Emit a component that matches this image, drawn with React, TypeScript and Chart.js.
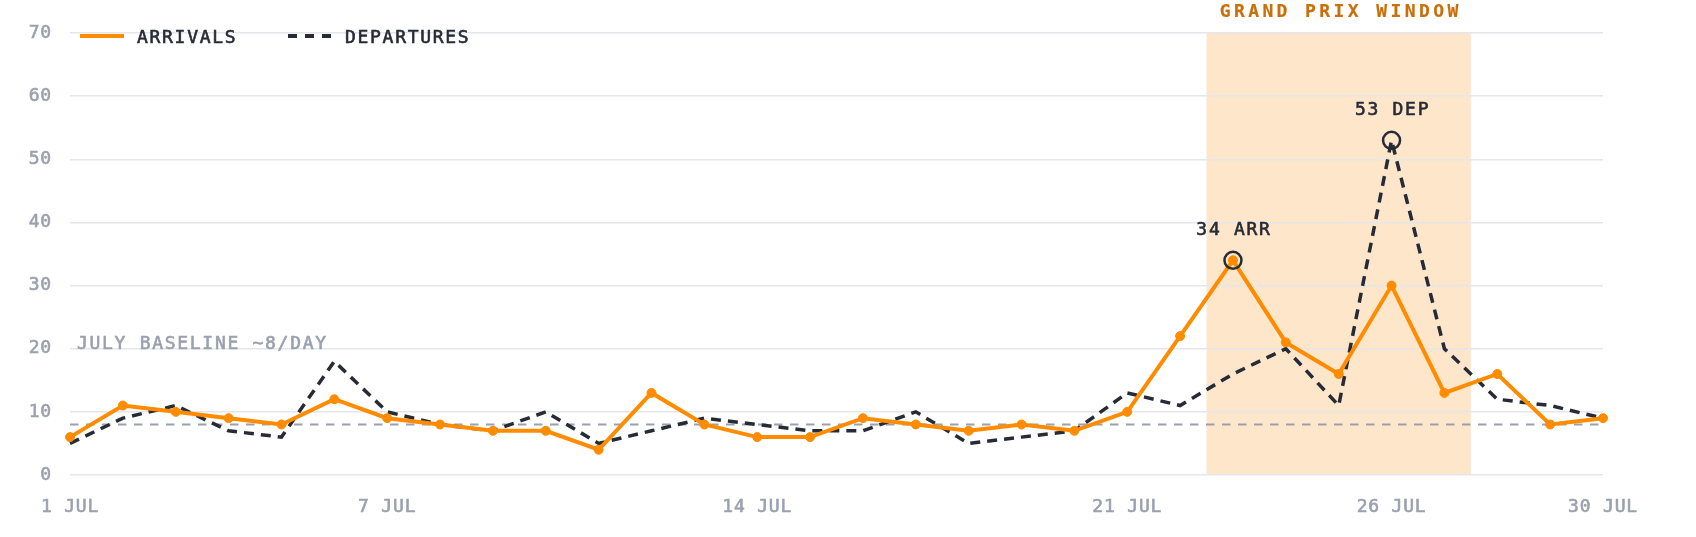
import React, { useEffect, useRef } from 'react';
import { Chart, registerables } from 'chart.js';

Chart.register(...registerables);

// July days (category axis)
const days = [1, 2, 3, 4, 5, 6, 7, 8, 9, 10, 11, 12, 13, 14, 15, 16, 17, 18, 19, 20, 21, 22, 23, 24, 25, 26, 27, 28, 29, 30];
const dayLabels = days.map((d) => `${d} JUL`);
const tickDays = [1, 7, 14, 21, 26, 30];

const arrivals = [6, 11, 10, 9, 8, 12, 9, 8, 7, 7, 4, 13, 8, 6, 6, 9, 8, 7, 8, 7, 10, 22, 34, 21, 16, 30, 13, 16, 8, 9];
const departures = [5, 9, 11, 7, 6, 18, 10, 8, 7, 10, 5, 7, 9, 8, 7, 7, 10, 5, 6, 7, 13, 11, 16, 20, 11, 53, 20, 12, 11, 9];

const yMin = 0;
const yMax = 70;
const yStep = 10;

const baselineValue = 8;
const baselineLabel = 'JULY BASELINE ~8/DAY';
const windowDays = [23, 27];
const windowLabel = 'GRAND PRIX WINDOW';
const peaks = [
  { day: 23, series: 0, suffix: 'ARR' },
  { day: 26, series: 1, suffix: 'DEP' },
];

const MONO = '"DejaVu Sans Mono", monospace';
const ORANGE = '#ff8c00';
const INK = '#272b36';
const MUTED = '#9aa0ad';
const GRID = '#e5e6eb';

// fill + thin stroke to get a medium weight look
function heavyText(ctx: CanvasRenderingContext2D, text: string, x: number, y: number, color: string, w = 0.6) {
  ctx.fillStyle = color;
  ctx.strokeStyle = color;
  ctx.lineWidth = w;
  ctx.setLineDash([]);
  ctx.fillText(text, x, y);
  ctx.strokeText(text, x, y);
}

const overlay = {
  id: 'overlay',
  beforeLayout(chart: any) {
    chart.ctx.letterSpacing = '0.8px';
  },
  beforeDraw(chart: any) {
    const { ctx, chartArea: a, scales } = chart;
    ctx.letterSpacing = '0.8px';
    const x = scales.x;
    const x0 = x.getPixelForValue(days.indexOf(windowDays[0]) - 0.5);
    const x1 = x.getPixelForValue(days.indexOf(windowDays[1]) + 0.5);
    ctx.save();
    ctx.fillStyle = '#fee6cb';
    ctx.fillRect(x0, a.top, x1 - x0, a.bottom - a.top);
    ctx.restore();
  },
  beforeDatasetsDraw(chart: any) {
    const { ctx, chartArea: a, scales } = chart;
    const yb = scales.y.getPixelForValue(baselineValue);
    ctx.save();
    ctx.strokeStyle = MUTED;
    ctx.lineWidth = 2;
    ctx.setLineDash([8.5, 7.5]);
    ctx.beginPath();
    ctx.moveTo(a.left, yb);
    ctx.lineTo(a.right, yb);
    ctx.stroke();
    ctx.font = `18px ${MONO}`;
    ctx.letterSpacing = '1.7px';
    ctx.textAlign = 'left';
    ctx.textBaseline = 'alphabetic';
    heavyText(ctx, baselineLabel, a.left + 7, scales.y.getPixelForValue(20), MUTED);
    ctx.restore();
  },
  afterDatasetsDraw(chart: any) {
    const { ctx, scales } = chart;
    const x = scales.x;
    const y = scales.y;
    ctx.save();

    // peak markers
    peaks.forEach((p) => {
      const i = days.indexOf(p.day);
      const v = chart.data.datasets[p.series].data[i];
      const px = x.getPixelForValue(i);
      const py = y.getPixelForValue(v);
      ctx.strokeStyle = INK;
      ctx.lineWidth = 2.5;
      ctx.setLineDash([]);
      ctx.beginPath();
      ctx.arc(px, py, 8.5, 0, Math.PI * 2);
      ctx.stroke();
      ctx.font = `18px ${MONO}`;
      ctx.letterSpacing = '1.7px';
      ctx.textAlign = 'center';
      ctx.textBaseline = 'middle';
      heavyText(ctx, `${v} ${p.suffix}`, px + 1, py - 30, INK);
    });

    // window title
    const x0 = x.getPixelForValue(days.indexOf(windowDays[0]) - 0.5);
    const x1 = x.getPixelForValue(days.indexOf(windowDays[1]) + 0.5);
    ctx.font = `bold 18px ${MONO}`;
    ctx.letterSpacing = '3.4px';
    ctx.textAlign = 'center';
    ctx.textBaseline = 'middle';
    heavyText(ctx, windowLabel, (x0 + x1) / 2 + 2, 12.5, '#c96f0c', 0.2);

    // legend
    const ly = 36;
    ctx.font = `18px ${MONO}`;
    ctx.letterSpacing = '1.7px';
    ctx.textAlign = 'left';
    const items = [
      { x: 80, dash: [] as number[] },
      { x: 288, dash: [9, 8] },
    ];
    chart.data.datasets.forEach((ds: any, k: number) => {
      const it = items[k];
      ctx.strokeStyle = ds.borderColor;
      ctx.lineWidth = 4;
      ctx.setLineDash(it.dash);
      ctx.beginPath();
      ctx.moveTo(it.x, ly);
      ctx.lineTo(it.x + 44, ly);
      ctx.stroke();
      heavyText(ctx, ds.label, it.x + 57, ly + 2, INK);
    });
    ctx.restore();
  },
};

export default function App() {
  const canvasRef = useRef<HTMLCanvasElement>(null);

  useEffect(() => {
    if (!canvasRef.current) return;
    const chart = new Chart(canvasRef.current, {
      type: 'line',
      data: {
        labels: dayLabels,
        datasets: [
          {
            label: 'ARRIVALS',
            data: arrivals,
            borderColor: ORANGE,
            backgroundColor: ORANGE,
            borderWidth: 4,
            pointRadius: 4.5,
            pointBorderWidth: 1,
            pointBackgroundColor: ORANGE,
            pointBorderColor: ORANGE,
            tension: 0,
            order: 1,
          },
          {
            label: 'DEPARTURES',
            data: departures,
            borderColor: INK,
            backgroundColor: INK,
            borderWidth: 3.5,
            borderDash: [10, 7],
            pointRadius: 0,
            tension: 0,
            order: 2,
          },
        ],
      },
      options: {
        animation: false,
        responsive: true,
        maintainAspectRatio: false,
        layout: { padding: { top: 33, right: 93, bottom: 0, left: 0 } },
        plugins: { legend: { display: false }, tooltip: { enabled: false } },
        scales: {
          x: {
            grid: { display: false },
            border: { display: false },
            ticks: {
              autoSkip: false,
              maxRotation: 0,
              padding: 14,
              color: MUTED,
              textStrokeColor: MUTED,
              textStrokeWidth: 0.6,
              font: { family: MONO, size: 18 },
              callback: (_v: any, i: number) => (tickDays.includes(days[i]) ? dayLabels[i] : ''),
            },
            afterFit: (s: any) => {
              s.height = 62;
            },
          },
          y: {
            min: yMin,
            max: yMax,
            ticks: {
              stepSize: yStep,
              padding: 18,
              color: MUTED,
              textStrokeColor: MUTED,
              textStrokeWidth: 0.6,
              font: { family: MONO, size: 18 },
            },
            grid: { color: GRID, lineWidth: 1.5, drawTicks: false },
            border: { display: false },
            afterFit: (s: any) => {
              s.width = 70;
            },
          },
        },
      },
      plugins: [overlay],
    });
    return () => {
      chart.destroy();
    };
  }, []);

  return (
    <div style={{ position: 'fixed', left: 0, top: 0, width: 1696, height: 537, background: '#fff' }}>
      <canvas ref={canvasRef} />
    </div>
  );
}
